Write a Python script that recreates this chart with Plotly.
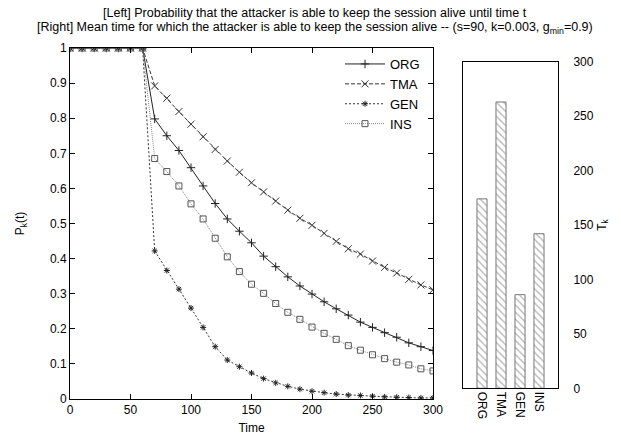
import plotly.graph_objects as go

W, H = 621, 439

times = [0, 10, 20, 30, 40, 50, 60, 70, 80, 90, 100, 110, 120, 130, 140, 150,
         160, 170, 180, 190, 200, 210, 220, 230, 240, 250, 260, 270, 280, 290, 300]

org = [1, 1, 1, 1, 1, 1, 1,
       0.798, 0.750, 0.708, 0.659, 0.607, 0.557, 0.513, 0.478, 0.445, 0.407, 0.377, 0.348,
       0.322, 0.299, 0.277, 0.257, 0.239, 0.219, 0.204, 0.189, 0.176, 0.160, 0.149, 0.138]
tma = [1, 1, 1, 1, 1, 1, 1,
       0.892, 0.857, 0.819, 0.783, 0.747, 0.711, 0.678, 0.646, 0.616, 0.590, 0.564, 0.538,
       0.515, 0.495, 0.472, 0.449, 0.428, 0.413, 0.393, 0.375, 0.359, 0.341, 0.325, 0.311]
gen = [1, 1, 1, 1, 1, 1, 1,
       0.422, 0.366, 0.313, 0.259, 0.204, 0.149, 0.111, 0.092, 0.074, 0.058, 0.046, 0.036,
       0.028, 0.022, 0.018, 0.014, 0.011, 0.010, 0.008, 0.006, 0.005, 0.004, 0.003, 0.003]
ins = [1, 1, 1, 1, 1, 1, 1,
       0.685, 0.648, 0.607, 0.556, 0.513, 0.458, 0.405, 0.363, 0.327, 0.301, 0.272, 0.247,
       0.227, 0.205, 0.187, 0.170, 0.152, 0.139, 0.126, 0.115, 0.105, 0.097, 0.086, 0.080]

bar_labels = ["ORG", "TMA", "GEN", "INS"]
bar_values = [174, 263, 86, 142]

title1 = "[Left] Probability that the attacker is able to keep the session alive until time t"
title2 = ("[Right] Mean time for which the attacker is able to keep the session alive -- "
          "(s=90, k=0.003, g<sub>min</sub>=0.9)")

FONT = "Liberation Sans, Arial, sans-serif"

fig = go.Figure()

series = [
    ("ORG", org, dict(color="#222", width=1, dash="solid"), "cross-thin", "#222", 6),
    ("TMA", tma, dict(color="#333", width=1, dash="4px,2px"), "x-thin", "#333", 7),
    ("GEN", gen, dict(color="#333", width=1, dash="2px,2px"), "asterisk", "#222", 5),
    ("INS", ins, dict(color="#888", width=1, dash="1px,1px"), "square-open", "#555", 6),
]
for name, vals, line, sym, mcol, msz in series:
    fig.add_trace(go.Scatter(
        x=times, y=vals, name=name, mode="lines+markers",
        line=line,
        marker=dict(symbol=sym, size=msz, color=mcol, line=dict(color=mcol, width=1)),
        xaxis="x", yaxis="y",
    ))

fig.add_trace(go.Bar(
    x=[1, 2, 3, 4], y=bar_values, width=0.53, showlegend=False,
    marker=dict(color="white", line=dict(color="#777", width=1),
                pattern=dict(shape="\\", fgcolor="#666", bgcolor="white", size=5, solidity=0.25)),
    xaxis="x2", yaxis="y2",
))

axis_common = dict(showline=True, linecolor="black", linewidth=1, mirror="allticks",
                   ticks="inside", ticklen=5, tickcolor="black", showgrid=False, zeroline=False,
                   automargin=False,
                   tickfont=dict(size=12, color="black", family=FONT))

fig.update_layout(
    width=W, height=H,
    margin=dict(l=0, r=0, t=0, b=0, pad=0),
    paper_bgcolor="white", plot_bgcolor="white",
    font=dict(family=FONT, size=12, color="black"),
    xaxis=dict(domain=[70 / W, 433 / W], range=[0, 300], tickvals=[0, 50, 100, 150, 200, 250, 300],
               title=dict(text="Time", standoff=7, font=dict(size=12)), anchor="y", **axis_common),
    yaxis=dict(domain=[1 - 399 / H, 1 - 48 / H], range=[0, 1],
               tickvals=[0, 0.1, 0.2, 0.3, 0.4, 0.5, 0.6, 0.7, 0.8, 0.9, 1],
               ticktext=["0", "0.1", "0.2", "0.3", "0.4", "0.5", "0.6", "0.7", "0.8", "0.9", "1"],
               title=dict(text="P<sub>k</sub>(t)", standoff=22, font=dict(size=12)),
               anchor="x", **axis_common),
    xaxis2=dict(domain=[463 / W, 558 / W], range=[0, 5], tickvals=[1, 2, 3, 4], ticktext=bar_labels,
                tickangle=90, showline=True, linecolor="black", mirror=True, ticks="",
                showgrid=False, zeroline=False, anchor="y2", automargin=False,
                tickfont=dict(size=12, color="black", family=FONT)),
    yaxis2=dict(domain=[1 - 388.3 / H, 1 - 61.7 / H], range=[0, 300], side="right",
                tickvals=[0, 50, 100, 150, 200, 250, 300],
                showline=True, linecolor="black", mirror=True, ticks="", showgrid=False,
                zeroline=False, anchor="x2", ticklabelstandoff=12, automargin=False,
                title=dict(text="T<sub>k</sub>", standoff=4, font=dict(size=12)),
                tickfont=dict(size=12, color="black", family=FONT)),
    legend=dict(x=340 / W, y=1 - 49 / H, xanchor="left", yanchor="top",
                bgcolor="rgba(0,0,0,0)", font=dict(size=13), itemwidth=40,
                tracegroupgap=0),
    annotations=[
        dict(text=title1, x=315 / W, y=1 - 13 / H, xref="paper", yref="paper",
             showarrow=False, xanchor="center", yanchor="middle", font=dict(size=12.5)),
        dict(text=title2, x=315 / W, y=1 - 28 / H, xref="paper", yref="paper",
             showarrow=False, xanchor="center", yanchor="middle", font=dict(size=12.5)),
    ],
)

fig.write_html("out.html", config={"displayModeBar": False},
               post_script="document.body.style.margin='0';")
